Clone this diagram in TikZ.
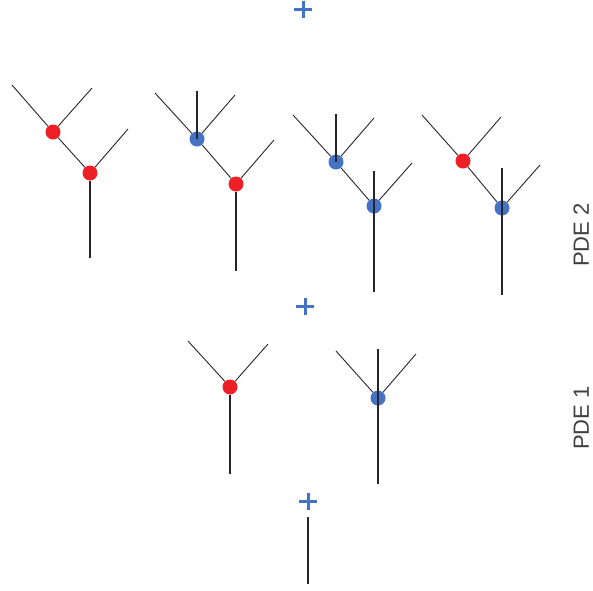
\documentclass[tikz,border=0pt]{standalone}
\usepackage{fontspec}
\setmainfont{Liberation Sans}
\definecolor{dotred}{HTML}{EE2026}
\definecolor{dotblue}{HTML}{4472C4}
\definecolor{lblgray}{HTML}{404040}
\tikzset{
  branch/.style={draw=black!85, line width=0.9pt},
  trunk/.style={draw=black!85, line width=1.6pt},
  rdot/.style={circle, fill=dotred, minimum size=15pt, inner sep=0pt},
  bdot/.style={circle, fill=dotblue, minimum size=15pt, inner sep=0pt},
  plussign/.style={minimum width=18pt, minimum height=17pt, inner sep=0pt,
    path picture={\draw[dotblue, line width=3pt]
      (path picture bounding box.north) -- (path picture bounding box.south)
      (path picture bounding box.west) -- (path picture bounding box.east);}},
  lbl/.style={text=lblgray, font=\fontsize{22}{22}\selectfont, rotate=90,
    inner sep=0pt, text depth=0pt, anchor=south}
}
\begin{document}
\begin{tikzpicture}[x=1pt,y=-1pt]
\useasboundingbox (0,0) rectangle (593,590);
% plus signs
\node[plussign] (plusA) at (303,9) {};
\node[plussign] (plusB) at (305,306) {};
\node[plussign] (plusC) at (308,501) {};
% root
\coordinate (r0) at (308,517);
\coordinate (r1) at (308,584);
\draw[trunk] (r0) -- (r1);

% ---------- PDE 1 ----------
% tree A (red)
\node[rdot] (aA) at (230,387) {};
\coordinate (aAl) at (188,341);
\coordinate (aAr) at (268,344);
\coordinate (aAb) at (230,474);
\draw[branch] (aAl) -- (aA);
\draw[branch] (aAr) -- (aA);
\draw[trunk] (aA) -- (aAb);
% tree B (blue)
\node[bdot] (aB) at (378,398) {};
\coordinate (aBl) at (336,351);
\coordinate (aBr) at (416,354);
\coordinate (aBt) at (378,349);
\coordinate (aBb) at (378,484);
\draw[branch] (aBl) -- (aB);
\draw[branch] (aBr) -- (aB);
\draw[trunk] (aBt) -- (aB.center) -- (aBb);

% ---------- PDE 2 ----------
% tree 1 (red, red)
\node[rdot] (t1u) at (53,132) {};
\node[rdot] (t1d) at (90,173) {};
\coordinate (t1l) at (12,85);
\coordinate (t1r) at (92,88);
\coordinate (t1rr) at (128,129);
\coordinate (t1b) at (90,258);
\draw[branch] (t1l) -- (t1u);
\draw[branch] (t1r) -- (t1u);
\draw[branch] (t1u) -- (t1d);
\draw[branch] (t1rr) -- (t1d);
\draw[trunk] (t1d) -- (t1b);
% tree 2 (blue, red)
\node[bdot] (t2u) at (197,139) {};
\node[rdot] (t2d) at (236,184) {};
\coordinate (t2l) at (155,93);
\coordinate (t2t) at (197,91);
\coordinate (t2r) at (235,95);
\coordinate (t2rr) at (274,140);
\coordinate (t2b) at (236,271);
\draw[branch] (t2l) -- (t2u);
\draw[branch] (t2r) -- (t2u);
\draw[trunk] (t2t) -- (t2u.center);
\draw[branch] (t2u) -- (t2d);
\draw[branch] (t2rr) -- (t2d);
\draw[trunk] (t2d) -- (t2b);
% tree 3 (blue, blue)
\node[bdot] (t3u) at (336,162) {};
\node[bdot] (t3d) at (374,206) {};
\coordinate (t3l) at (293,115);
\coordinate (t3t) at (336,114);
\coordinate (t3r) at (374,118);
\coordinate (t3rr) at (412,163);
\coordinate (t3v) at (374,171);
\coordinate (t3b) at (374,292);
\draw[branch] (t3l) -- (t3u);
\draw[branch] (t3r) -- (t3u);
\draw[trunk] (t3t) -- (t3u.center);
\draw[branch] (t3u) -- (t3d);
\draw[branch] (t3rr) -- (t3d);
\draw[trunk] (t3v) -- (t3d.center) -- (t3b);
% tree 4 (red, blue)
\node[rdot] (t4u) at (463,161) {};
\node[bdot] (t4d) at (502,208) {};
\coordinate (t4l) at (422,115);
\coordinate (t4r) at (501,117);
\coordinate (t4rr) at (540,165);
\coordinate (t4v) at (502,168);
\coordinate (t4b) at (502,295);
\draw[branch] (t4l) -- (t4u);
\draw[branch] (t4r) -- (t4u);
\draw[branch] (t4u) -- (t4d);
\draw[branch] (t4rr) -- (t4d);
\draw[trunk] (t4v) -- (t4d.center) -- (t4b);

% labels
\node[lbl] (pde2) at (589,235) {PDE 2};
\node[lbl] (pde1) at (589,418) {PDE 1};
\end{tikzpicture}
\end{document}
